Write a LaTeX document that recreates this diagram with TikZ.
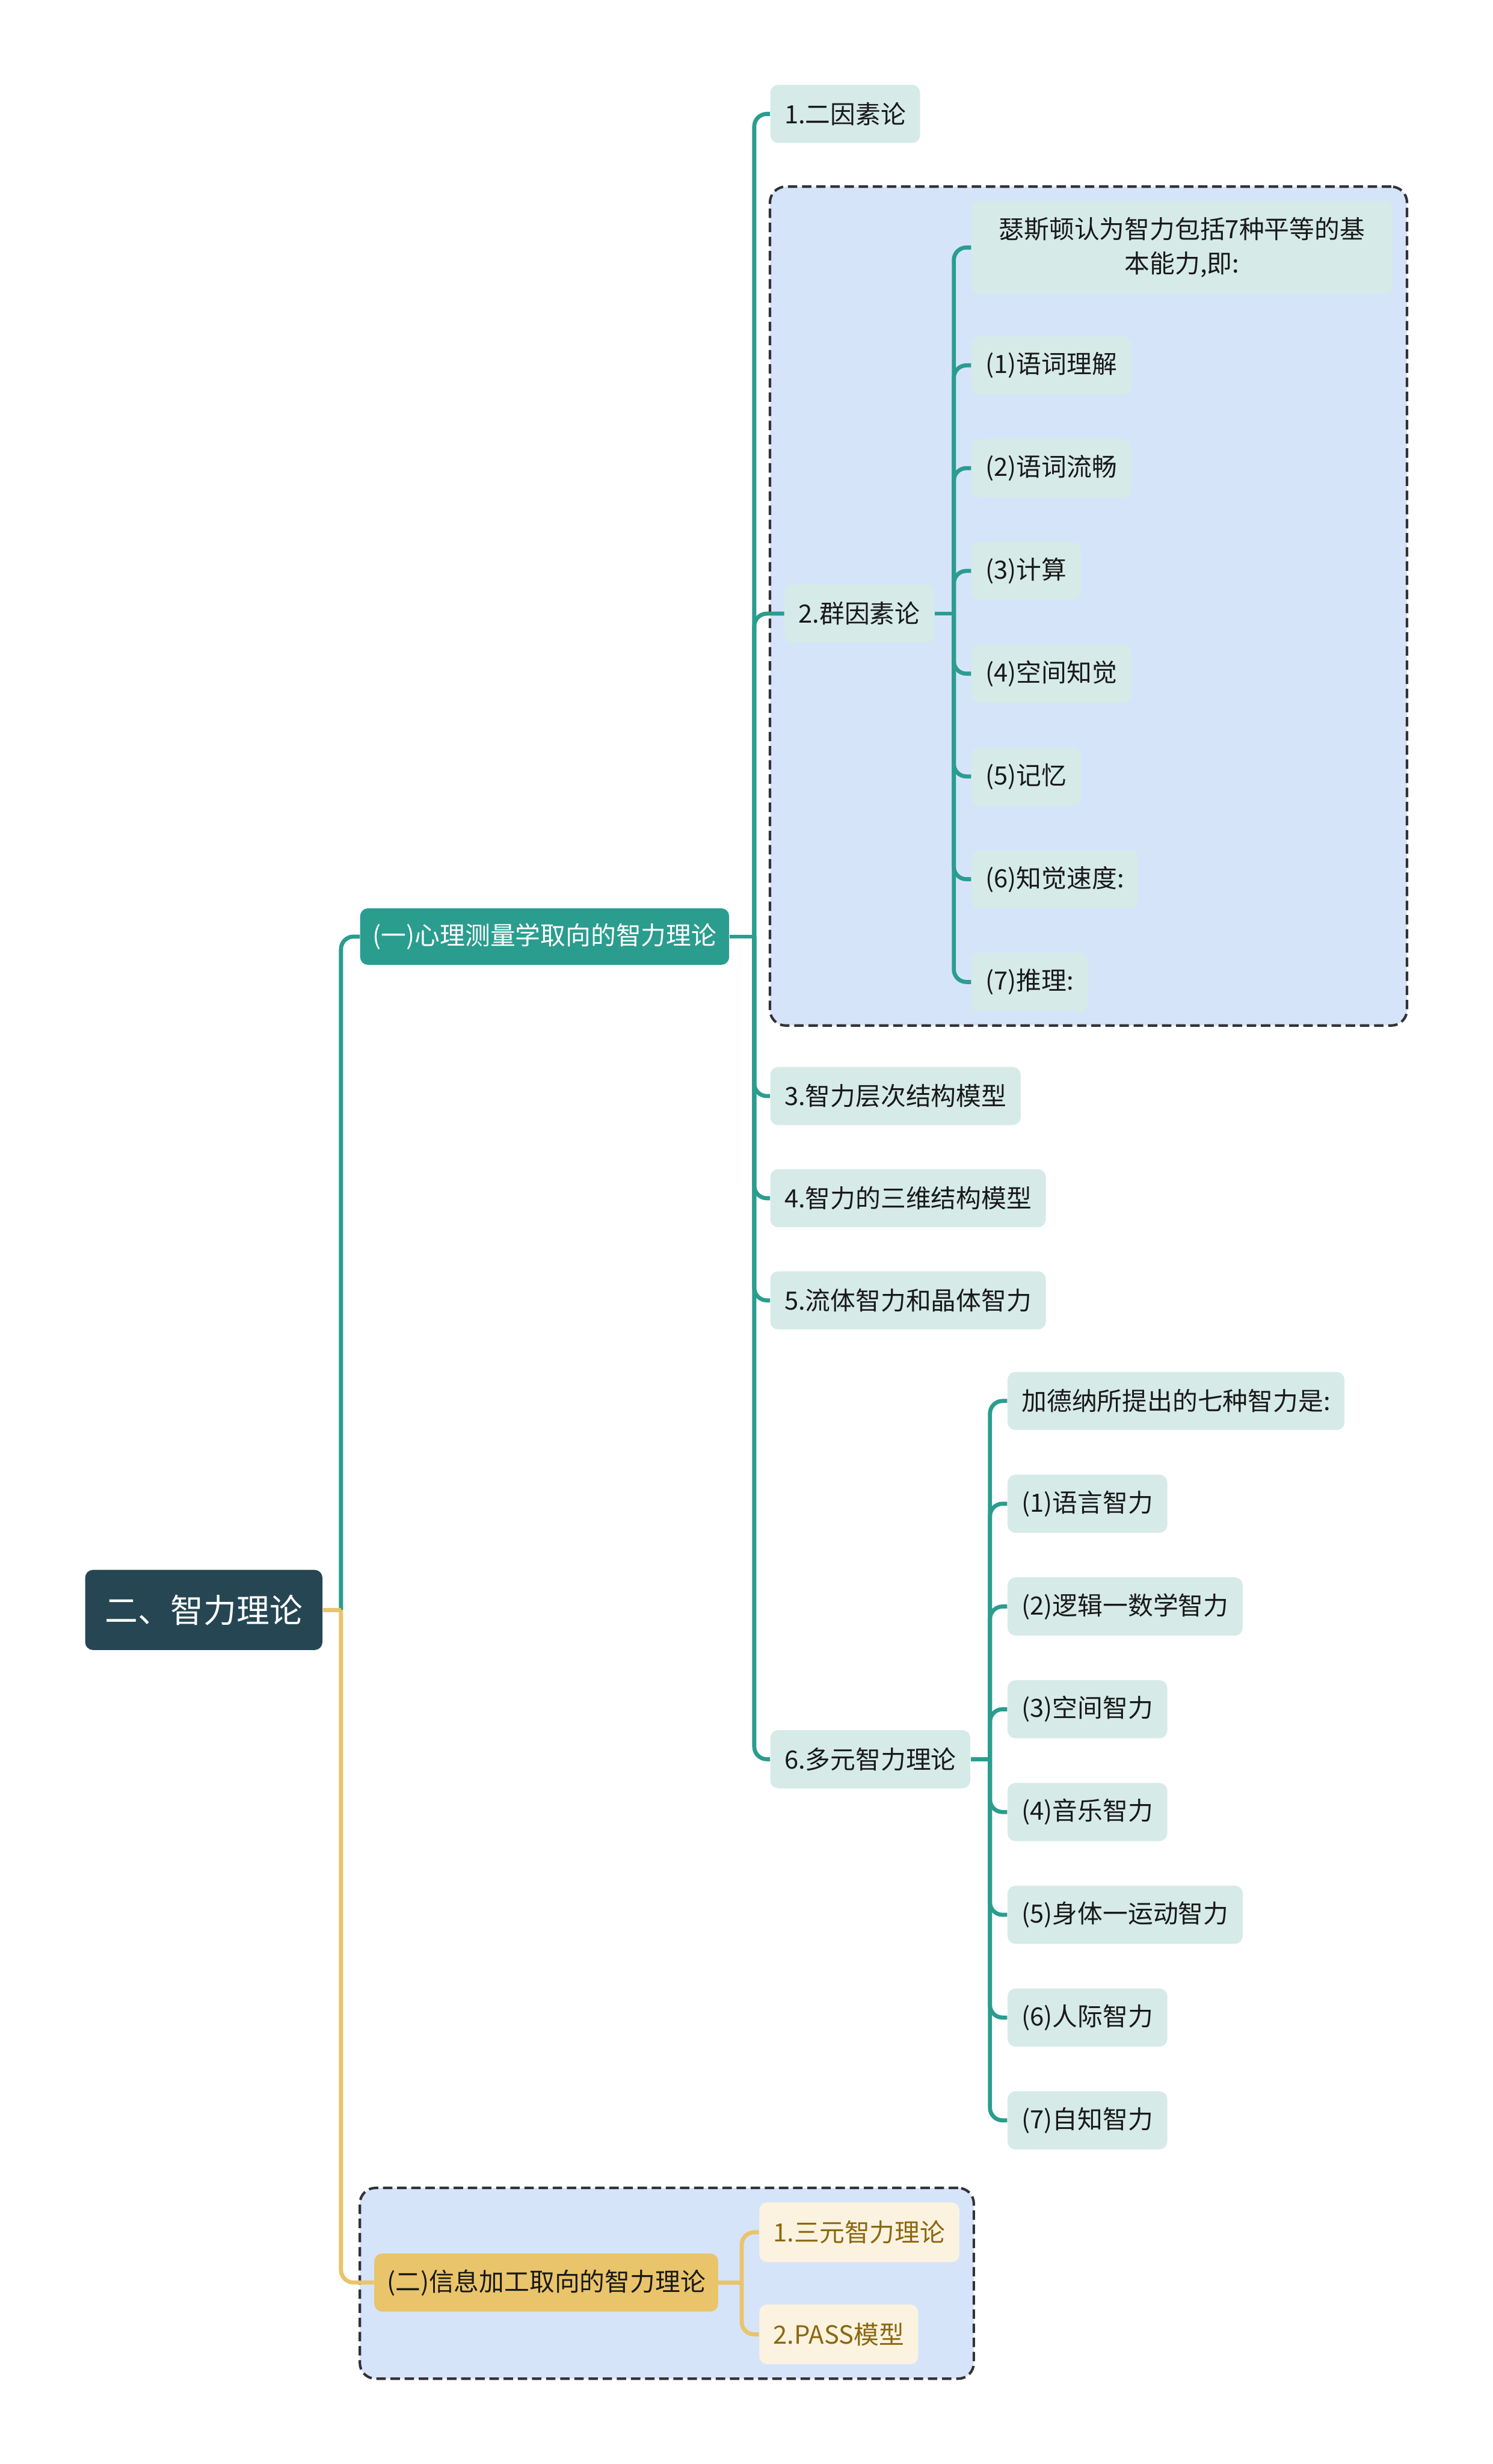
\documentclass[tikz,border=0pt]{standalone}
\usepackage{fontspec}
\setmainfont{Noto Sans CJK SC}
\usetikzlibrary{positioning,fit,calc,backgrounds}
\definecolor{rootc}{RGB}{38,70,83}
\definecolor{tealc}{RGB}{42,157,143}
\definecolor{leafc}{RGB}{214,235,232}
\definecolor{groupc}{RGB}{214,228,250}
\definecolor{goldc}{RGB}{233,196,106}
\definecolor{creamc}{RGB}{251,243,224}
\definecolor{goldtext}{RGB}{140,104,14}
\definecolor{inkc}{RGB}{25,25,25}
\definecolor{dashc}{RGB}{50,50,55}

\begin{document}
\begin{tikzpicture}[
    x=1pt, y=-1pt,
    every node/.style={font=\fontsize{16pt}{22pt}\selectfont, rounded corners=5pt, inner ysep=0pt},
    rootbox/.style={fill=rootc, text=white, font=\fontsize{21pt}{25pt}\selectfont, minimum height=51pt, inner xsep=12.5pt, anchor=west},
    topic/.style={fill=tealc, text=white, minimum height=36pt, inner xsep=8pt, anchor=west},
    topicy/.style={fill=goldc, text=inkc, minimum height=37pt, inner xsep=8pt, anchor=west},
    leaf/.style={fill=leafc, text=inkc, minimum height=37pt, inner xsep=9pt, anchor=west},
    leafy/.style={fill=creamc, text=goldtext, minimum height=38pt, inner xsep=9pt, anchor=west},
    groupbox/.style={draw=dashc, fill=groupc, dash pattern=on 6pt off 3pt, line width=1.6pt, rounded corners=10pt, inner sep=9pt},
    tealline/.style={draw=tealc, line width=2.6pt, rounded corners=8pt},
    goldline/.style={draw=goldc, line width=2.6pt, rounded corners=8pt}
]
    \useasboundingbox (0,0) rectangle (950,1568);

    % Root and main topics
    \node[rootbox] (root) at (54,1024.5) {二、智力理论};
    \node[topic] (yi) at (229,596) {(一)心理测量学取向的智力理论};
    \node[topicy] (er) at (238,1452.5) {(二)信息加工取向的智力理论};

    % Psychometric theories
    \node[leaf] (a1) at (490,72.5) {1.二因素论};
    \node[leaf] (qun) at (499,390.5) {2.群因素论};
    \node[leaf] (a3) at (490,697.5) {3.智力层次结构模型};
    \node[leaf] (a4) at (490,762.5) {4.智力的三维结构模型};
    \node[leaf] (a5) at (490,827.5) {5.流体智力和晶体智力};
    \node[leaf] (duo) at (490,1119.5) {6.多元智力理论};

    % Thurstone
    \node[leaf, minimum width=268pt, minimum height=59pt, align=center] (t0) at (618,157.5) {瑟斯顿认为智力包括7种平等的基\\本能力,即:};
    \node[leaf] (t1) at (618,232.5) {(1)语词理解};
    \node[leaf, below=28pt of t1.south west, anchor=north west] (t2) {(2)语词流畅};
    \node[leaf, below=28pt of t2.south west, anchor=north west] (t3) {(3)计算};
    \node[leaf, below=28pt of t3.south west, anchor=north west] (t4) {(4)空间知觉};
    \node[leaf, below=28pt of t4.south west, anchor=north west] (t5) {(5)记忆};
    \node[leaf, below=28pt of t5.south west, anchor=north west] (t6) {(6)知觉速度:};
    \node[leaf, below=28pt of t6.south west, anchor=north west] (t7) {(7)推理:};

    % Gardner
    \node[leaf] (g0) at (641,891.5) {加德纳所提出的七种智力是:};
    \node[leaf, below=28pt of g0.south west, anchor=north west] (g1) {(1)语言智力};
    \node[leaf, below=28pt of g1.south west, anchor=north west] (g2) {(2)逻辑一数学智力};
    \node[leaf, below=28pt of g2.south west, anchor=north west] (g3) {(3)空间智力};
    \node[leaf, below=28pt of g3.south west, anchor=north west] (g4) {(4)音乐智力};
    \node[leaf, below=28pt of g4.south west, anchor=north west] (g5) {(5)身体一运动智力};
    \node[leaf, below=28pt of g5.south west, anchor=north west] (g6) {(6)人际智力};
    \node[leaf, below=28pt of g6.south west, anchor=north west] (g7) {(7)自知智力};

    % Information processing
    \node[leafy] (s1) at (483,1420.5) {1.三元智力理论};
    \node[leafy] (s2) at (483,1485.5) {2.PASS模型};

    % Junctions
    \coordinate (rootJ) at (root.east -| 217,0);
    \coordinate (yiJ) at (yi.east -| 480,0);
    \coordinate (qunJ) at (qun.east -| 607,0);
    \coordinate (duoJ) at (duo.east -| 630,0);
    \coordinate (erJ) at (er.east -| 472,0);

    % Connectors
    \draw[tealline] (rootJ) |- (yi.west);
    \draw[goldline] (rootJ) |- (er.west);
    \draw[goldline] (root.east) -- (rootJ);

    \draw[tealline] (yi.east) -- (yiJ);
    \draw[tealline] (yiJ) |- (a1.west);
    \draw[tealline] (yiJ) |- (qun.west);
    \draw[tealline] (yiJ) |- (a3.west);
    \draw[tealline] (yiJ) |- (a4.west);
    \draw[tealline] (yiJ) |- (a5.west);
    \draw[tealline] (yiJ) |- (duo.west);

    \draw[tealline] (qun.east) -- (qunJ);
    \draw[tealline] (qunJ) |- (t0.west);
    \draw[tealline] (qunJ) |- (t1.west);
    \draw[tealline] (qunJ) |- (t2.west);
    \draw[tealline] (qunJ) |- (t3.west);
    \draw[tealline] (qunJ) |- (t4.west);
    \draw[tealline] (qunJ) |- (t5.west);
    \draw[tealline] (qunJ) |- (t6.west);
    \draw[tealline] (qunJ) |- (t7.west);

    \draw[tealline] (duo.east) -- (duoJ);
    \draw[tealline] (duoJ) |- (g0.west);
    \draw[tealline] (duoJ) |- (g1.west);
    \draw[tealline] (duoJ) |- (g2.west);
    \draw[tealline] (duoJ) |- (g3.west);
    \draw[tealline] (duoJ) |- (g4.west);
    \draw[tealline] (duoJ) |- (g5.west);
    \draw[tealline] (duoJ) |- (g6.west);
    \draw[tealline] (duoJ) |- (g7.west);

    \draw[goldline] (er.east) -- (erJ);
    \draw[goldline] (erJ) |- (s1.west);
    \draw[goldline] (erJ) |- (s2.west);

    % Dashed groups
    \begin{scope}[on background layer]
        \node[groupbox, fit=(qun)(t0)(t7)] (qunbox) {};
        \node[groupbox, fit=(er)(s1)(s2)] (erbox) {};
    \end{scope}
\end{tikzpicture}
\end{document}
